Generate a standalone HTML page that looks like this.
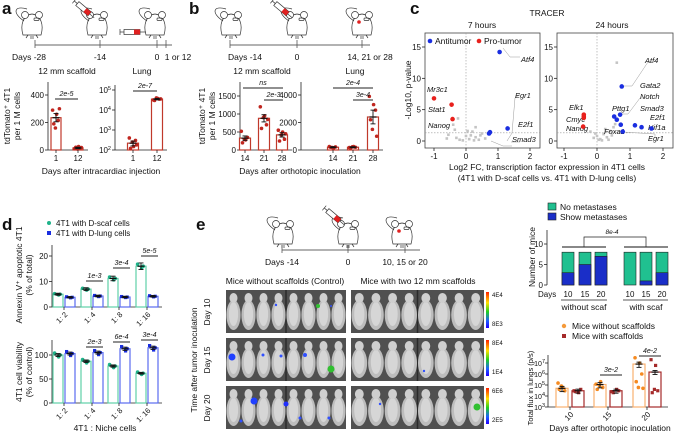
<!DOCTYPE html>
<html><head><meta charset="utf-8">
<style>
html,body{margin:0;padding:0;background:#fff;}
svg{display:block;font-family:"Liberation Sans",Arial,sans-serif;}
</style></head>
<body>
<svg id="fig" width="675" height="435" viewBox="0 0 675 435" xmlns="http://www.w3.org/2000/svg"></svg>
<script>
// ---------- DATA ----------
const aScafCats=['1','12'];
const aScafVals=[235,15];
const aScafErr=[30,5];
const aScafPts=[[290,260,215,190,160,300],[10,25,15,20,8,18]];
const aLungCats=['1','12'];
const aLungVals=[220,35000];
const aLungErr=[60,3000];
const aLungPts=[[400,150,300,120,250,180],[32000,38000,35000,30000,40000,36000]];
const bScafCats=['14','21','28'];
const bScafVals=[330,880,420];
const bScafErr=[60,100,60];
const bScafPts=[[520,280,350,200,300],[1200,950,700,600,900,850],[550,500,300,250,420,450]];
const bLungCats=['14','21','28'];
const bLungVals=[200,200,2400];
const bLungErr=[40,40,500];
const bLungPts=[[250,150,220,200,180],[180,250,200,150,230],[3900,3300,2900,2200,1500,1000]];
const c7Blue=[[1.05,14.2],[1.3,2.0],[0.75,1.4],[0.72,1.2]];
const c7Red=[[-1.0,6.8],[-0.45,5.8],[-0.42,3.5]];
const c7Gray=[[-0.55,1.0],[-0.3,0.5],[-0.2,0.2],[0,0.8],[0.1,0.3],[0.2,1.5],[0.3,2.2],[0.3,0.6],[0.45,0.9],[0.5,1.2],[-0.1,0.1],[-0.4,2.6],[-0.35,1.8],[0.6,0.4],[0.05,1.6],[-0.25,3.6],[0.25,0.1],[-0.6,0.4],[0.15,0.9],[0.4,0.2]];
const c24Blue=[[0.75,8.7],[0.7,4.2],[0.52,3.9],[0.6,3.4],[0.72,2.6],[1.15,2.5],[1.35,2.2],[1.65,2.0],[0.78,1.5]];
const c24Red=[[-0.4,4.2],[-0.4,3.9],[-0.4,3.7],[-0.42,2.3]];
const c24Gray=[[0.6,12.5],[0,0.8],[0.1,0.3],[0.2,1.1],[-0.1,0.5],[0.3,0.6],[0.4,1.6],[0.5,2.2],[-0.2,1.5],[0.15,0.1],[0.25,1.9],[0.35,0.2],[-0.05,1.2],[0.45,0.9],[0.55,2.7],[0.05,0.2]];
const dCats=['1: 2','1: 4','1: 8','1: 16'];
const dApoScaf=[5,7,11.2,16];
const dApoLung=[3.8,4.3,3.9,4.2];
const dViaScaf=[100,87,77,62];
const dViaLung=[103,105,113,115];
const eDays=['10','15','20','10','15','20'];
const eTotal=[8,8,8,8,8,8];
const eShow=[3,5,7,0,1,3];
const fCats=['10','15','20'];
const fNoScaf=[5e4,1.1e5,8e6];
const fScaf=[3e4,3e4,1.5e6];
const fNoScafPts=[[1.5e5,6e4,3e4,4e4,8e4],[1.2e5,2e5,6e4,4e4,9e4],[3e7,1e7,1e6,2e5,6e4,5e4]];
const fScafPts=[[3e4,2e4,4e4,2.5e4],[2.5e4,4e4,3e4,2e4],[2e7,6e6,3e4,2e4,4e4]];

// ---------- HELPERS ----------
const NS='http://www.w3.org/2000/svg';
const svg=document.getElementById('fig');
function el(tag,attrs,parent){const e=document.createElementNS(NS,tag);for(const k in attrs)e.setAttribute(k,attrs[k]);(parent||svg).appendChild(e);return e;}
function txt(x,y,s,attrs,parent){const t=el('text',Object.assign({x:x,y:y,'font-size':8,fill:'#111'},attrs||{}),parent);t.textContent=s;return t;}
function lin(d0,d1,r0,r1){return v=>r0+(v-d0)*(r1-r0)/(d1-d0);}
function logs(d0,d1,r0,r1){return v=>r0+(Math.log10(v)-d0)*(r1-r0)/(d1-d0);}
function line(x1,y1,x2,y2,c,w,parent){return el('line',{x1:x1,y1:y1,x2:x2,y2:y2,stroke:c||'#222','stroke-width':w||0.8},parent);}

function yAxis(x,yTop,yBot,ticks,labels,sc,name){
  const g=el('g',{});
  
  
  line(x,yTop,x,yBot,'#222',0.8,g);
  ticks.forEach((t,i)=>{const y=sc(t);line(x-3,y,x,y,'#222',0.8,g);
    const lab=txt(x-4,y+3,labels[i],{'text-anchor':'end','font-size':8},g);
    
    });
  return g;
}
function logLabel(x,y,exp,g,fs){const t=txt(x,y,'10',{'text-anchor':'end','font-size':fs||8},g);
  const s=document.createElementNS(NS,'tspan');s.setAttribute('dy','-3');s.setAttribute('font-size','5.5');s.textContent=exp;t.appendChild(s);
  t.setAttribute('text-anchor','start');t.setAttribute('x',x-(fs?fs*1.55:13));return t;}
function logYAxis(x,yTop,yBot,exps,sc,name,fs){
  const g=el('g',{});
  
  
  line(x,yTop,x,yBot,'#222',0.8,g);
  exps.forEach(e=>{const y=sc(Math.pow(10,e));line(x-3,y,x,y,'#222',0.8,g);
    const lab=logLabel(x-3,y+3,String(e),g,fs);
    
    });
  return g;
}
function bars(xs,vals,errs,pts,sc,base,w,stroke,fill,dot,name,square){
  vals.forEach((v,i)=>{
    const y=sc(v);
    const r=el('rect',{x:xs[i]-w/2,y:Math.min(y,base),width:w,height:Math.abs(base-y),fill:fill,stroke:stroke,'stroke-width':1.2});
    
    
    if(pts&&pts[i]){pts[i].forEach((p,j)=>{const px=xs[i]+((j%3)-1)*w*0.28+(j%2?1:-1)*0.6;
      let d;
      if(square){d=el('rect',{x:px-1.6,y:sc(p)-1.6,width:3.2,height:3.2,fill:dot});}
      else{d=el('circle',{cx:px,cy:sc(p),r:1.8,fill:dot});}
      
      });}
    if(errs){const e=errs[i];const hi=sc(v+e),lo=sc(Math.max(v-e,v*0.3));
      line(xs[i],hi,xs[i],lo,'#111',0.9);line(xs[i]-2.5,hi,xs[i]+2.5,hi,'#111',0.9);line(xs[i]-2.5,lo,xs[i]+2.5,lo,'#111',0.9);
      line(xs[i]-3.5,y,xs[i]+3.5,y,'#111',1.2);}
  });
}
function sig(x1,x2,y,label){line(x1,y,x2,y,'#222',0.9);const t=txt((x1+x2)/2,y-3,label,{'text-anchor':'middle','font-size':7,'font-style':'italic'});
  
  }
function panelLabel(x,y,s){const t=txt(x,y,s,{'font-size':17,'font-weight':'bold'});
  
  }
function mouse(x,y,name,red){
  const g=el('g',{transform:'translate('+x+','+y+')',fill:'none',stroke:'#333','stroke-width':0.7});
  
  
  el('path',{d:'M-9,12 C-12,2 -9,-8 0,-9 C9,-8 12,2 9,12 Z',fill:'#fff'},g);
  el('circle',{cx:-7,cy:-8,r:3.5,fill:'#fff'},g);
  el('circle',{cx:7,cy:-8,r:3.5,fill:'#fff'},g);
  el('path',{d:'M-8,-2 C-20,-10 -18,-18 -5,-14'},g);
  el('path',{d:'M-4,12 l-2,3 M4,12 l2,3 M-1,13 l0,3 M1,13 l0,3'},g);
  el('rect',{x:2,y:-5,width:5,height:2.5,rx:1},g);
  if(red){el('circle',{cx:-3,cy:-1,r:1.8,fill:'#e02020',stroke:'none'},g);}
}
function syringe(x,y,ang,name){
  const g=el('g',{transform:'translate('+x+','+y+') rotate('+ang+')'});
  
  
  el('rect',{x:-10,y:-2.5,width:16,height:5,fill:'#fff',stroke:'#333','stroke-width':0.7},g);
  el('rect',{x:0,y:-2.5,width:6,height:5,fill:'#e02020'},g);
  line(6,0,12,0,'#333',0.7,g);line(-14,0,-10,0,'#333',0.7,g);line(-14,-3,-14,3,'#333',0.7,g);
}
function timeline(x1,x2,y,ticks,labels,name){
  const g=el('g',{});
  
  
  line(x1,y,x2,y,'#999',1.5,g);
  ticks.forEach((t,i)=>{line(t,y-5,t,y+3,'#555',0.8,g);txt(t,y+15,labels[i],{'text-anchor':'middle','font-size':8.5},g);});
}
function rotText(x,y,s,size,name){const t=txt(x,y,s,{'text-anchor':'middle','font-size':size||8.5,transform:'rotate(-90 '+x+' '+y+')'});
  
  return t;}
function label(x,y,s,size,name,extra){const t=txt(x,y,s,Object.assign({'text-anchor':'middle','font-size':size||8.5},extra||{}));
  
  return t;}

const RED='#c0392b', RDOT='#c0261f';

// ---------- PANEL A ----------
panelLabel(2,14,'a');
mouse(32,23,'mouse-icon');mouse(97,23,'mouse-icon');mouse(155,23,'mouse-icon');
syringe(85,10,40,'syringe-icon');syringe(134,32,0,'syringe-icon');
timeline(35,172,45,[35,100,157,166],['',' -14','0',''],'timeline-a');
label(29,60,'Days -28',8.5,'timeline-label');label(178,60,'1 or 12',8.5,'timeline-label');
label(67,74,'12 mm scaffold',8.5,'chart-title');
label(142,74,'Lung',8.5,'chart-title');
const yA1=lin(0,400,150,95);
yAxis(48,82,150,[0,200,400],['0','200','400'],yA1,'y-axis-a1');
line(48,150,88,150);
bars([56,78],aScafVals,aScafErr,aScafPts,yA1,150,10,RED,'#fff',RDOT,'a-scaffold');
aScafCats.forEach((c,i)=>{line([56,78][i],150,[56,78][i],153);label([56,78][i],161,c,8,'x-tick-label');});
sig(55,78,99,'2e-5');
const yA2=logs(2,5,150,90);
logYAxis(115,85,150,[2,3,4,5],yA2,'y-axis-a2');
line(115,150,167,150);
bars([133,157],aLungVals,aLungErr,aLungPts,yA2,150,11,RED,'#fff',RDOT,'a-lung');
aLungCats.forEach((c,i)=>{line([133,157][i],150,[133,157][i],153);label([133,157][i],161,c,8,'x-tick-label');});
sig(133,157,91,'2e-7');
rotText(10,116,'tdTomato⁺ 4T1',8.5,'y-axis-title');rotText(20,116,'per 1 M cells',8.5,'y-axis-title');
label(101,174,'Days after intracardiac injection',8.5,'x-axis-title');

// ---------- PANEL B ----------
panelLabel(189,14,'b');
mouse(231,23,'mouse-icon');mouse(297,23,'mouse-icon');mouse(362,23,'mouse-icon',true);
syringe(283,10,40,'syringe-icon');
timeline(230,370,45,[230,297,362],['','0',''],'timeline-b');
label(245,60,'Days -14',8.5,'timeline-label');label(370,60,'14, 21 or 28',8.5,'timeline-label');
label(262,74,'12 mm scaffold',8.5,'chart-title');
label(355,74,'Lung',8.5,'chart-title');
const yB1=lin(0,1500,150,96);
yAxis(240,82,150,[0,500,1000,1500],['0','500','1000','1500'],yB1,'y-axis-b1');
line(240,150,292,150);
const bx1=[245,264,282];
bars(bx1,bScafVals,bScafErr,bScafPts,yB1,150,11,RED,'#fff',RDOT,'b-scaffold');
bScafCats.forEach((c,i)=>{line(bx1[i],150,bx1[i],153);label(bx1[i],161,c,8,'x-tick-label');});
sig(243,283,88,'ns');sig(264,283,100,'2e-3');
const yB2=lin(0,4000,150,95);
yAxis(301,82,150,[0,2000,4000],['0','2000','4000'],yB2,'y-axis-b2');
line(301,150,383,150);
const bx2=[333,353,373];
bars(bx2,bLungVals,bLungErr,bLungPts,yB2,150,11,RED,'#fff',RDOT,'b-lung');
bLungCats.forEach((c,i)=>{line(bx2[i],150,bx2[i],153);label(bx2[i],161,c,8,'x-tick-label');});
sig(333,373,88,'2e-4');sig(353,373,100,'3e-4');
rotText(205,116,'tdTomato⁺ 4T1',8.5,'y-axis-title');rotText(215,116,'per 1 M cells',8.5,'y-axis-title');
label(300,174,'Days after orthotopic inoculation',8.5,'x-axis-title');

// ---------- PANEL C ----------
panelLabel(410,14,'c');
label(547,16,'TRACER',8.5,'figure-title');
label(482,28,'7 hours',8.5,'chart-title');label(612,28,'24 hours',8.5,'chart-title');
function volcano(left,right,xsc,blue,red,gray,name,labels){
  const ysc=lin(0,15,141,47);
  const fr=el('rect',{x:left,y:33,width:right-left,height:115,fill:'none',stroke:'#444','stroke-width':0.8});
  
  
  [-1,0,1,2].forEach(v=>{const x=xsc(v);line(x,148,x,151);label(x,159,String(v),8,'x-tick-label');});
  [0,5,10,15].forEach(v=>{const y=ysc(v);line(left-3,y,left,y);
    const t=txt(left-4,y+3,String(v),{'text-anchor':'end','font-size':8});
    
    });
  el('line',{x1:xsc(0),y1:33,x2:xsc(0),y2:148,stroke:'#999','stroke-width':0.6,'stroke-dasharray':'1.5,1.5'});
  el('line',{x1:left,y1:ysc(1.3),x2:right,y2:ysc(1.3),stroke:'#999','stroke-width':0.6,'stroke-dasharray':'1.5,1.5'});
  gray.forEach(p=>{const r=el('rect',{x:xsc(p[0])-1.3,y:ysc(p[1])-1.3,width:2.6,height:2.6,fill:'#c4c4c4'});
    
    });
  labels.forEach(l=>{el('polyline',{points:l[0],fill:'none',stroke:'#999','stroke-width':0.5});
    const t=txt(l[1],l[2],l[3],{'font-size':7.5,'font-style':'italic','text-anchor':l[4]||'start'});
    
    });
  blue.forEach(p=>{const c=el('circle',{cx:xsc(p[0]),cy:ysc(p[1]),r:2.3,fill:'#1a2ee0'});
    
    });
  red.forEach(p=>{const c=el('circle',{cx:xsc(p[0]),cy:ysc(p[1]),r:2.3,fill:'#e8201c'});
    
    });
}
const x7=lin(0,1,466,498);
volcano(425,540,x7,c7Blue,c7Red,c7Gray,'volcano-7h',[
  ['503,48 510,57 520,57',521,62,'Atf4'],['507,141 512,133 515,98 520,94',515,98,'Egr1'],
  ['511,142 520,142',518,127,'E2f1'],['491,141 503,146 512,146',512,142,'Smad3'],
  ['',427,92,'Mr3c1'],['',428,112,'Stat1'],['',428,128,'Nanog']]);
const x24=lin(0,1,597,630);
volcano(557,673,x24,c24Blue,c24Red,c24Gray,'volcano-24h',[
  ['622,86 632,86 648,62 652,62',645,63,'Atf4'],['622,114 628,114 640,98 645,98',640,88,'Gata2'],
  ['',640,99,'Notch'],['',640,111,'Smad3'],['',650,120,'E2f1'],['',648,130,'Hif1a'],
  ['623,132 655,134 655,138',648,141,'Egr1'],['',612,111,'Pttg1'],['',604,134,'Foxa1'],
  ['',569,110,'Elk1'],['',566,122,'Cmyc'],['',566,131,'Nanog']]);
el('circle',{cx:430,cy:41,r:2.3,fill:'#1a2ee0'});txt(435,44,'Antitumor',{'font-size':8.5});
el('circle',{cx:479,cy:41,r:2.3,fill:'#e8201c'});txt(484,44,'Pro-tumor',{'font-size':8.5});
rotText(411,90,'-Log10, p-value',8.5,'y-axis-title');
label(547,170,'Log2 FC, transcription factor expression in 4T1 cells',8.5,'x-axis-title');
label(547,181,'(4T1 with D-scaf cells vs. 4T1 with D-lung cells)',8.5,'x-axis-title');

// ---------- PANEL D ----------
panelLabel(2,230,'d');
el('circle',{cx:49,cy:223,r:2,fill:'#1fb38a'});txt(56,226,'4T1 with D-scaf cells',{'font-size':8});
el('rect',{x:47,y:231,width:4,height:4,fill:'#1a2ee0'});txt(56,236,'4T1 with D-lung cells',{'font-size':8});
const dg=[64,92,119,147];
const dS=dg.map(v=>v-6),dL=dg.map(v=>v+6);
const yD1=lin(0,20,307,256);
yAxis(52,245,307,[0,10,20],['0','10','20'],yD1,'y-axis-d-apoptosis');
line(52,307,162,307);
bars(dS,dApoScaf,dApoScaf.map(v=>v*0.08),dApoScaf.map(v=>[v*1.05,v*0.95,v]),yD1,307,10,'#5fd0a8','#fff','#1fb38a','d-apo-scaf');
bars(dL,dApoLung,dApoLung.map(v=>v*0.08),dApoLung.map(v=>[v*1.05,v*0.95,v]),yD1,307,10,'#5a6cf0','#fff','#1a2ee0','d-apo-lung',true);
sig(86,103,281,'1e-3');sig(113,130,268,'3e-4');sig(141,158,256,'5e-5');
const yD2=lin(0,100,403,355);
yAxis(52,340,403,[0,50,100],['0','50','100'],yD2,'y-axis-d-viability');
line(52,403,162,403);
bars(dS,dViaScaf,dViaScaf.map(v=>v*0.03),dViaScaf.map(v=>[v*1.04,v*0.96,v]),yD2,403,10,'#5fd0a8','#fff','#1fb38a','d-via-scaf');
bars(dL,dViaLung,dViaLung.map(v=>v*0.03),dViaLung.map(v=>[v*1.04,v*0.96,v]),yD2,403,10,'#5a6cf0','#fff','#1a2ee0','d-via-lung',true);
sig(86,103,347,'2e-3');sig(113,130,342,'6e-4');sig(141,158,340,'3e-4');
dCats.forEach((c,i)=>{[[307,313],[403,409]].forEach(p=>{line(dg[i],p[0],dg[i],p[0]+3);
  const t=txt(dg[i]+4,p[1]+2,c,{'text-anchor':'end','font-size':7.5,transform:'rotate(-45 '+(dg[i]+4)+' '+(p[1]+2)+')'});
  
  });});
rotText(22,275,'Annexin V⁺ apoptotic 4T1',8.5,'y-axis-title');rotText(32,275,'(% of total)',8.5,'y-axis-title');
rotText(22,372,'4T1 cell viability',8.5,'y-axis-title');rotText(32,372,'(% of control)',8.5,'y-axis-title');
label(105,431,'4T1 : Niche cells',8.5,'x-axis-title');

// ---------- PANEL E ----------
panelLabel(196,230,'e');
mouse(283,232,'mouse-icon');mouse(348,232,'mouse-icon');mouse(402,232,'mouse-icon',true);
syringe(335,217,40,'syringe-icon');
timeline(282,420,250,[282,348,405],['Days -14','0','10, 15 or 20'],'timeline-e');
label(285,284,'Mice without scaffolds (Control)',8.5,'image-title');
label(418,284,'Mice  with two 12 mm scaffolds',8.5,'image-title');
rotText(197,360,'Time after tumor inoculation',8.5,'y-axis-title');
const rowsY=[290,338,386];
['Day 10','Day 15','Day 20'].forEach((d,i)=>rotText(210,rowsY[i]+22,d,8.5,'row-label'));
const hot=[[[[276,305,'#3050ff',1.2],[318,306,'#30c030',2],[331,306,'#3050ff',1]],[]],
  [[[232,357,'#2040ff',3.5],[263,355,'#3050ff',1.5],[281,356,'#3050ff',1.5],[305,355,'#3050ff',2],[331,369,'#30c030',3.5]],[[424,371,'#3050ff',1.2]]],
  [[[254,401,'#2040ff',3.5],[241,421,'#3050ff',1.5],[286,404,'#2030ff',2.5],[300,418,'#3050ff',1.5],[329,418,'#3050ff',1.5]],[[380,404,'#3050ff',1.2],[477,407,'#30c030',3.5]]]];
rowsY.forEach((y,r)=>{[[226,120],[351,133]].forEach((p,c)=>{
  const bg=el('rect',{x:p[0],y:y,width:p[1],height:43,fill:'#505050'});
  
  
  el('line',{x1:p[0]+p[1]/2,y1:y,x2:p[0]+p[1]/2,y2:y+43,stroke:'#2a2a2a','stroke-width':1.5});
  for(let k=0;k<8;k++){const mx=p[0]+p[1]*(k+0.5)/8;
    el('ellipse',{cx:mx,cy:y+25,rx:p[1]/17,ry:15,fill:'#bdbdbd'});
    el('ellipse',{cx:mx,cy:y+24,rx:p[1]/26,ry:12,fill:'#d6d6d6'});
    el('ellipse',{cx:mx,cy:y+8,rx:p[1]/30,ry:5,fill:'#cfcfcf'});}
  hot[r][c].forEach(h=>{el('circle',{cx:h[0],cy:h[1],r:h[3],fill:h[2]});});
});});
const cbL=[['4E4','8E3'],['8E4','1E4'],['6E6','2E5']];
el('defs',{}).innerHTML='<linearGradient id="cb" x1="0" y1="0" x2="0" y2="1"><stop offset="0" stop-color="#ff2000"/><stop offset="0.3" stop-color="#ffe000"/><stop offset="0.55" stop-color="#20d020"/><stop offset="0.8" stop-color="#2060ff"/><stop offset="1" stop-color="#2000ff"/></linearGradient>';
rowsY.forEach((y,r)=>{const cb=el('rect',{x:486,y:y+2,width:3,height:36,fill:'url(#cb)'});
  
  
  txt(492,y+7,cbL[r][0],{'font-size':6});txt(492,y+36,cbL[r][1],{'font-size':6});});

// metastasis stacked bars
el('rect',{x:548,y:203,width:8,height:7,fill:'#20c090',stroke:'#222','stroke-width':0.6});txt(560,210,'No metastases',{'font-size':8.5});
el('rect',{x:548,y:213,width:8,height:7,fill:'#1a2ec8',stroke:'#222','stroke-width':0.6});txt(560,220,'Show metastases',{'font-size':8.5});
const yM=lin(0,10,285,244);
yAxis(547,230,285,[0,5,10],['0','5','10'],yM,'y-axis-mice');
const mx=[568,585,601,630,646,662];
eTotal.forEach((t,i)=>{
  const a=el('rect',{x:mx[i]-6,y:yM(t),width:12,height:yM(0)-yM(t),fill:'#20c090',stroke:'#222','stroke-width':0.6});
  
  
  if(eShow[i]>0){const b=el('rect',{x:mx[i]-6,y:yM(eShow[i]),width:12,height:yM(0)-yM(eShow[i]),fill:'#1a2ec8',stroke:'#222','stroke-width':0.6});
  
  }
  label(mx[i],297,eDays[i],8,'x-tick-label');
});
line(562,247,606,247,'#888',2);line(624,247,668,247,'#888',2);
el('polyline',{points:'584,247 584,237 646,237 646,247',fill:'none',stroke:'#222','stroke-width':0.7});
label(612,234,'8e-4',6.5,'significance-label',{'font-style':'italic'});
txt(538,297,'Days',{'font-size':8});
line(561,300,607,300);line(623,300,668,300);
label(584,310,'without scaf',8.5,'group-label');label(646,310,'with scaf',8.5,'group-label');
rotText(535,257,'Number of mice',8.5,'y-axis-title');

// flux chart
el('circle',{cx:564,cy:326,r:2.2,fill:'#f59a3a'});txt(572,329,'Mice without scaffolds',{'font-size':8.5});
el('rect',{x:562,y:334,width:4,height:4,fill:'#a52a2a'});txt(572,339,'Mice with scaffolds',{'font-size':8.5});
const yF=logs(3,7,407,363);
logYAxis(548,355,407,[3,4,5,6,7],yF,'y-axis-flux',7);
line(548,407,668,407);
const fx=[570,608,647];
const fo=fx.map(v=>v-8),fr=fx.map(v=>v+8);
bars(fo,fNoScaf,fNoScaf.map(v=>v*0.5),fNoScafPts,yF,407,12,'#f8b070','#fff','#f58a20','flux-without-scaffolds');
bars(fr,fScaf,fScaf.map(v=>v*0.4),fScafPts,yF,407,12,'#a52a2a','#fff','#a52a2a','flux-with-scaffolds',true);
sig(600,622,375,'3e-2');sig(639,661,356,'4e-2');
fCats.forEach((c,i)=>{line(fx[i],407,fx[i],410);
  const t=txt(fx[i]+4,415,c,{'text-anchor':'end','font-size':8,transform:'rotate(-45 '+(fx[i]+4)+' 415)'});
  
  });
rotText(533,388,'Total flux in lungs (p/s)',7.5,'y-axis-title');
label(610,431,'Days after orthotopic inoculation',8.5,'x-axis-title');
</script>
</body></html>
